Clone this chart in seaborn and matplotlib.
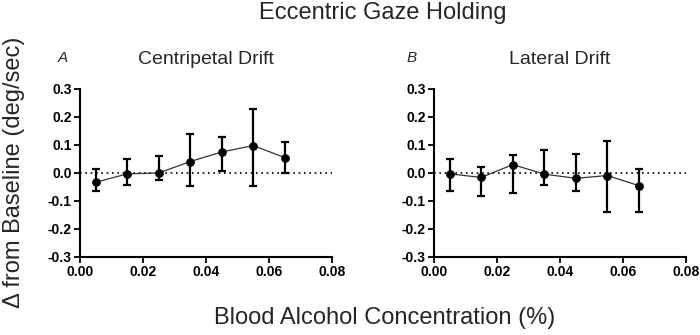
"""Eccentric gaze holding: drift change from baseline vs blood alcohol concentration."""

import matplotlib
matplotlib.use("Agg")
import matplotlib.pyplot as plt
import numpy as np
import pandas as pd
import seaborn as sns

# ---------------------------------------------------------------- data
BAC = [0.005, 0.015, 0.025, 0.035, 0.045, 0.055, 0.065]

CENT_MEAN = [-0.033, -0.003, 0.000, 0.041, 0.075, 0.098, 0.055]
CENT_UPPER = [0.014, 0.050, 0.061, 0.139, 0.130, 0.228, 0.109]
CENT_LOWER = [-0.065, -0.042, -0.025, -0.048, 0.007, -0.048, -0.001]

LAT_MEAN = [-0.003, -0.016, 0.030, -0.004, -0.019, -0.009, -0.045]
LAT_UPPER = [0.051, 0.020, 0.063, 0.081, 0.067, 0.115, 0.014]
LAT_LOWER = [-0.065, -0.081, -0.070, -0.043, -0.065, -0.138, -0.138]

PANELS = [
    ("A", "Centripetal Drift", CENT_MEAN, CENT_LOWER, CENT_UPPER),
    ("B", "Lateral Drift", LAT_MEAN, LAT_LOWER, LAT_UPPER),
]

X_TICKS = [0.00, 0.02, 0.04, 0.06, 0.08]
X_TICKLABELS = ["0.00", "0.02", "0.04", "0.06", "0.08"]
Y_TICKS = [-0.3, -0.2, -0.1, 0.0, 0.1, 0.2, 0.3]
Y_TICKLABELS = ["-0.3", "-0.2", "-0.1", "0.0", "0.1", "0.2", "0.3"]


def main() -> None:
    sns.set_style("ticks")
    plt.rcParams["font.family"] = ["Liberation Sans", "DejaVu Sans"]
    plt.rcParams["axes.unicode_minus"] = False

    W, H = 700, 335
    fig = plt.figure(figsize=(W / 100, H / 100), dpi=100)

    # axes boxes in pixels: (left, right), shared top/bottom
    boxes = [(80, 332), (434, 686)]
    letter_x = [63, 412]
    top, bottom = 89, 257

    for (letter, title, mean, lower, upper), (x0, x1), lx in zip(PANELS, boxes, letter_x):
        ax = fig.add_axes([x0 / W, 1 - bottom / H, (x1 - x0) / W, (bottom - top) / H])
        df = pd.DataFrame({"bac": BAC, "mean": mean, "lower": lower, "upper": upper})

        ax.axhline(0, color="black", linestyle=(0, (1, 2.2)), linewidth=1.2, zorder=1)
        yerr = np.vstack([df["mean"] - df["lower"], df["upper"] - df["mean"]])
        ax.errorbar(df["bac"], df["mean"], yerr=yerr, fmt="none", ecolor="black",
                    elinewidth=1.6, capsize=3.0, capthick=1.6, zorder=2)
        sns.lineplot(data=df, x="bac", y="mean", color="#333333", linewidth=0.9,
                     marker="o", markersize=5.5, markerfacecolor="black",
                     markeredgecolor="black", ax=ax, zorder=3)

        ax.set_xlim(0, 0.08)
        ax.set_ylim(-0.3, 0.3)
        ax.set_xticks(X_TICKS)
        ax.set_xticklabels(X_TICKLABELS)
        ax.set_yticks(Y_TICKS)
        ax.set_yticklabels(Y_TICKLABELS)
        ax.set_xlabel("")
        ax.set_ylabel("")
        ax.tick_params(axis="both", direction="out", length=4, width=1.3,
                       colors="black", labelsize=10, pad=2)
        for lbl in ax.get_xticklabels() + ax.get_yticklabels():
            lbl.set_fontweight("bold")
        sns.despine(ax=ax)
        for side in ("left", "bottom"):
            ax.spines[side].set_linewidth(1.5)
            ax.spines[side].set_color("black")

        ax.set_title(title, fontsize=14, pad=18)
        fig.text(lx / W, 1 - 58 / H, letter, fontsize=11, style="italic",
                 ha="center", va="center")

    fig.text(383 / W, 1 - 13 / H, "Eccentric Gaze Holding", fontsize=17,
             ha="center", va="center")
    fig.text(385 / W, 1 - 318 / H, "Blood Alcohol Concentration (%)", fontsize=17,
             ha="center", va="center")
    fig.text(14 / W, 1 - 172 / H, "\u0394 from Baseline (deg/sec)", fontsize=17,
             rotation=90, ha="center", va="center")

    fig.savefig("out.png", dpi=100)
    plt.close(fig)


if __name__ == "__main__":
    main()
